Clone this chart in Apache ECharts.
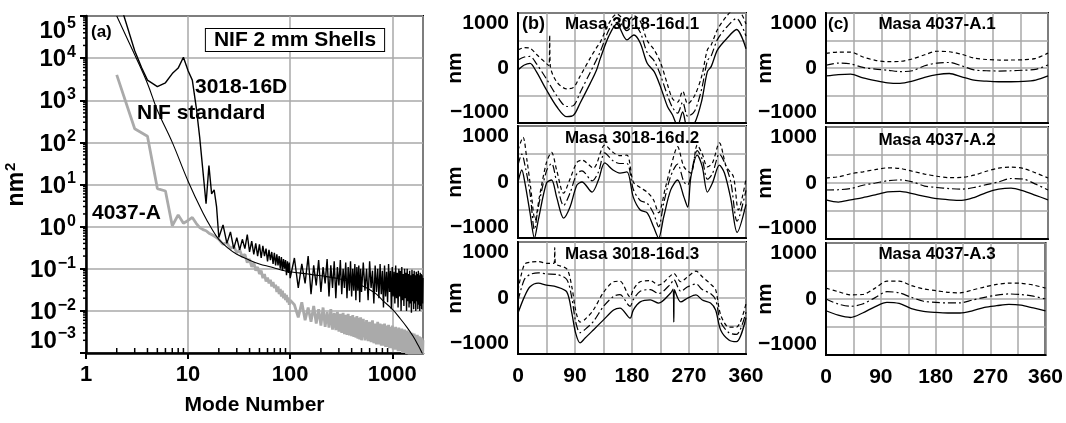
<!DOCTYPE html>
<html><head><meta charset="utf-8">
<script src="https://cdn.jsdelivr.net/npm/echarts@6/dist/echarts.min.js"></script>
<style>html,body{margin:0;padding:0;background:#fff}#c{width:1066px;height:423px}</style>
</head><body><div id="c"></div>
<script>
const FONT = '"Liberation Sans", Arial, Helvetica, sans-serif';

// ---------- Panel (a): power spectra ----------
const nifStandard = [[2,1e5],[3,1.2e4],[4,2500],[5,580],[7,100],[10,12],[14,2.1],[17,0.9],[20,0.5],[25,0.3],[30,0.22],[40,0.16],[50,0.13],[65,0.11],[80,0.095],[100,0.085],[150,0.075],[200,0.068],[300,0.058],[400,0.048],[500,0.04],[600,0.032],[700,0.025],[800,0.018],[1000,0.011],[1200,0.0065],[1400,0.004],[1600,0.0025],[1800,0.0015],[2000,0.0009]];

const s3018Low = [[2.3,1.2e5],[3,1.5e4],[3.5,6000],[4,3000],[5,2100],[6,2600],[7,4300],[8,5800],[9,10500],[10,5000],[11,3000],[12,700],[13,130],[14,20],[15,3.5],[16,28],[17,6],[18,7.5],[19,3]];
const s4037Low = [[2,4000],[3,210],[4,140],[5,8],[6,7],[7,1.05],[8,1.9],[9,1.2],[10,1.4],[11,1.65],[12,1.2],[13,0.95],[14,0.85],[15,0.8],[16,0.7],[17,0.65],[18,0.6],[19,0.55]];

// mode grids for the noisy parts (20..100 step 2, 110..500 step 10, 520..2000 step 20)
function range(a, b, s) { const r = []; for (let v = a; v <= b; v += s) r.push(v); return r; }
const modesA = range(20, 100, 2);
const modesB = range(110, 500, 10);
const modesC = range(520, 2000, 20);

const s3018A = [0.55,1.1,0.4,0.75,0.3,0.55,0.28,0.5,0.3,0.65,0.25,0.45,0.22,0.4,0.2,0.38,0.18,0.35,0.2,0.3,0.15,0.28,0.16,0.25,0.13,0.24,0.12,0.22,0.12,0.2,0.1,0.19,0.09,0.17,0.1,0.16,0.07,0.15,0.08,0.14,0.06];
const s3018B = [0.18,0.035,0.13,0.045,0.2,0.025,0.12,0.04,0.16,0.028,0.11,0.045,0.17,0.022,0.12,0.035,0.15,0.02,0.11,0.04,0.16,0.025,0.1,0.035,0.14,0.02,0.11,0.03,0.15,0.022,0.1,0.03,0.13,0.018,0.11,0.03,0.12,0.016,0.1,0.028];
const s3018C = [0.14,0.03,0.1,0.018,0.15,0.035,0.09,0.015,0.12,0.028,
  0.1,0.02,0.13,0.025,0.09,0.012,0.12,0.022,0.085,0.016,
  0.13,0.028,0.09,0.011,0.11,0.022,0.085,0.015,0.12,0.02,
  0.08,0.012,0.1,0.022,0.09,0.01,0.11,0.018,0.075,0.013,
  0.1,0.02,0.08,0.01,0.1,0.017,0.075,0.012,0.09,0.015,
  0.07,0.009,0.095,0.017,0.075,0.011,0.09,0.015,0.07,0.01,
  0.085,0.017,0.075,0.011,0.09,0.014,0.07,0.01,0.08,0.013,
  0.075,0.011,0.07,0.015,0.06];

const s4037A = [0.5,0.38,0.42,0.3,0.34,0.24,0.28,0.19,0.22,0.14,0.17,0.11,0.14,0.09,0.11,0.075,0.09,0.06,0.075,0.05,0.062,0.045,0.055,0.038,0.048,0.035,0.042,0.028,0.038,0.025,0.033,0.022,0.03,0.02,0.026,0.018,0.024,0.016,0.021,0.014,0.018];
const s4037B = [0.014,0.007,0.016,0.006,0.012,0.0055,0.013,0.005,0.011,0.0045,
  0.012,0.0042,0.0095,0.004,0.011,0.0036,0.009,0.0035,0.0095,0.0032,
  0.0085,0.003,0.009,0.0028,0.008,0.0027,0.0085,0.0026,0.0075,0.0025,
  0.008,0.0024,0.007,0.0023,0.0075,0.0022,0.0068,0.0021,0.007,0.002];
const s4037C = [0.0065,0.002,0.006,0.0019,0.0055,0.0018,0.006,0.0017,0.005,0.0016,
  0.0055,0.0016,0.005,0.0015,0.0048,0.0015,0.005,0.0014,0.0045,0.0014,
  0.0047,0.0013,0.0042,0.0013,0.0045,0.0012,0.004,0.0012,0.0042,0.0012,
  0.0038,0.0011,0.004,0.0011,0.0036,0.0011,0.0038,0.001,0.0034,0.001,
  0.0036,0.001,0.0032,0.00095,0.0034,0.00095,0.003,0.0009,0.0032,0.0009,
  0.0029,0.0009,0.003,0.00085,0.0028,0.00085,0.0029,0.0008,0.0027,0.0008,
  0.0026,0.0008,0.0027,0.00075,0.0025,0.00075,0.0025,0.0007,0.0024,0.0007,
  0.0023,0.0007,0.0022,0.0007,0.002];

function zip(ms, vs) { const r = []; for (let i = 0; i < Math.min(ms.length, vs.length); i++) r.push([ms[i], vs[i]]); return r; }
const data3018 = s3018Low.concat(zip(modesA, s3018A), zip(modesB, s3018B), zip(modesC, s3018C));
const data4037 = s4037Low.concat(zip(modesA, s4037A), zip(modesB, s4037B), zip(modesC, s4037C));

// ---------- Panel (b): Masa 3018-16d ----------
const b1Solid = [[0,-36],[10,55],[19,85],[29,-67],[45,-400],[61,-700],[77,-885],[88,-855],[98,-640],[114,-280],[124,-36],[130,175],[143,570],[156,800],[172,510],[183,600],[193,455],[204,85],[215,-67],[225,-340],[236,-700],[244,-855],[252,-1050],[260,-800],[268,-1100],[279,-1000],[290,-600],[299,-67],[305,25],[315,330],[330,540],[345,700],[360,350]];
const b1DashDot = [[0,145],[10,200],[19,210],[29,80],[45,-200],[61,-500],[77,-700],[88,-680],[98,-450],[114,-80],[124,150],[130,300],[143,680],[156,900],[172,680],[183,780],[193,650],[204,280],[215,130],[225,-130],[236,-500],[244,-720],[252,-820],[260,-620],[268,-880],[279,-780],[290,-380],[299,130],[305,220],[315,520],[330,750],[345,900],[360,580]];
const b1Dashed = [[0,330],[10,370],[19,360],[29,250],[45,80],[49,40],[50,600],[51,40],[61,-250],[77,-380],[88,-350],[98,-150],[114,180],[124,370],[130,470],[143,800],[156,980],[172,850],[183,950],[193,850],[204,500],[215,330],[225,100],[236,-300],[244,-560],[252,-620],[260,-420],[268,-650],[279,-500],[290,-150],[299,330],[305,420],[315,700],[330,950],[345,1100],[360,800]];

const b2Solid = [[0,0],[6,214],[11,-20],[19,-550],[26,-1000],[32,-680],[45,-18],[53,36],[61,-270],[72,-645],[82,-450],[93,-55],[101,0],[117,-180],[127,36],[137,340],[150,214],[161,160],[172,180],[182,-270],[193,-500],[204,-550],[214,-800],[222,-1000],[230,-625],[241,-145],[252,36],[262,-270],[268,-450],[273,90],[283,480],[291,270],[299,-180],[307,-18],[318,300],[326,160],[336,-300],[346,-900],[360,-400]];
const b2DashDot = [[0,300],[6,500],[11,300],[19,-200],[26,-850],[32,-450],[45,200],[53,330],[61,0],[72,-420],[82,-200],[93,150],[101,200],[117,20],[127,180],[137,520],[150,380],[161,330],[172,330],[182,-130],[193,-330],[204,-380],[214,-560],[222,-800],[230,-380],[241,100],[252,320],[262,0],[268,-50],[273,120],[283,560],[291,400],[299,50],[307,150],[318,500],[326,350],[336,0],[346,-700],[360,-150]];
const b2Dashed = [[0,570],[8,800],[14,400],[20,-100],[27,-680],[34,-250],[45,350],[53,530],[61,214],[72,-200],[82,50],[93,350],[101,390],[119,250],[137,660],[150,530],[161,470],[172,480],[182,0],[193,-100],[204,-180],[214,-320],[222,-550],[233,-90],[242,300],[252,630],[262,270],[273,160],[283,660],[291,500],[299,270],[307,340],[318,700],[329,270],[340,100],[348,-500],[360,50]];

const b3Solid = [[0,-270],[10,20],[19,200],[32,265],[45,230],[61,200],[77,110],[85,-270],[91,-625],[98,-800],[106,-715],[119,-570],[135,-390],[151,-215],[161,-180],[177,-360],[182,-215],[193,-70],[209,-35],[222,-90],[241,90],[245,160],[246,-430],[247,150],[257,-70],[268,0],[281,55],[291,-35],[304,-90],[312,-215],[320,-570],[333,-750],[345,-780],[360,-350]];
const b3DashDot = [[0,-50],[10,330],[19,420],[32,450],[45,430],[61,420],[77,330],[85,0],[91,-420],[98,-620],[106,-560],[119,-420],[135,-150],[151,30],[161,60],[177,-150],[182,-30],[193,120],[209,150],[222,80],[241,250],[246,330],[257,120],[268,200],[281,250],[291,150],[304,80],[312,-30],[320,-430],[333,-620],[345,-650],[360,-250]];
const b3Dashed = [[0,140],[10,600],[19,640],[32,650],[45,620],[57,620],[58,900],[59,620],[77,520],[85,200],[91,-215],[98,-430],[106,-380],[119,-215],[135,100],[151,290],[161,300],[177,20],[182,150],[193,290],[209,310],[222,230],[241,400],[246,440],[257,290],[268,380],[281,480],[291,380],[304,250],[312,150],[320,-300],[333,-520],[345,-520],[360,-100]];

// ---------- Panel (c): Masa 4037-A ----------
const cAngles = [0,20,40,60,80,100,120,140,160,180,200,220,240,260,280,300,320,340,360];
const c1Dashed = [265,290,290,200,140,115,120,165,240,305,295,250,180,155,145,145,150,175,270];
const c1DashDot = [50,90,75,10,-20,-40,-65,-50,40,90,100,40,-35,-50,-55,-50,-40,-25,55];
const c1Solid = [-145,-120,-110,-180,-230,-270,-280,-240,-170,-120,-100,-160,-220,-240,-250,-250,-245,-220,-145];
const c2Dashed = [90,110,165,200,240,270,260,210,160,120,95,100,140,210,265,285,260,180,90];
const c2DashDot = [-125,-120,-100,-40,0,40,55,20,-55,-80,-100,-110,-80,-30,20,80,70,-20,-125];
const c2Solid = [-300,-340,-300,-260,-210,-160,-150,-190,-240,-280,-300,-310,-260,-170,-110,-90,-140,-220,-300];
const c3Dashed = [195,130,75,80,190,320,320,240,180,150,120,110,160,215,260,285,280,250,195];
const c3DashDot = [0,-90,-130,-90,20,130,110,30,-40,-60,-70,-70,-20,30,70,90,80,50,0];
const c3Solid = [-210,-290,-330,-250,-140,-60,-80,-170,-220,-240,-250,-250,-210,-150,-120,-95,-110,-160,-210];

const rowTitles = ['Masa 3018-16d.1','Masa 3018-16d.2','Masa 3018-16d.3','Masa 4037-A.1','Masa 4037-A.2','Masa 4037-A.3'];
const angleTicks = [0, 90, 180, 270, 360];

// ---------- layout ----------
const gridBoxes = [
  {left:86, top:16, width:337, height:337},
  {left:518, top:13, width:228, height:110},
  {left:518, top:126, width:228, height:112},
  {left:518, top:242, width:228, height:112},
  {left:826, top:13, width:222, height:110},
  {left:826, top:127, width:222, height:112},
  {left:826, top:243, width:222, height:112}
];
const GRIDC = '#a9a9a9';
const bold = {fontFamily: FONT, fontWeight: 'bold', color: '#000'};

const tickRich = {
  b: Object.assign({fontSize: 24, verticalAlign: 'bottom'}, bold),
  s: Object.assign({fontSize: 16, verticalAlign: 'bottom', padding: [0,0,11,1]}, bold)
};
const nameRich = {
  b: Object.assign({fontSize: 23, verticalAlign: 'bottom'}, bold),
  s: Object.assign({fontSize: 15, verticalAlign: 'bottom', padding: [0,0,10,1]}, bold)
};

function pow10Label(v) {
  const lg = Math.log10(v); const e = Math.round(lg);
  if (Math.abs(lg - e) > 0.01) return '';
  return '{b|10}{s|' + (e < 0 ? '\u2212' + (-e) : '' + e) + '}';
}

const xAxes = [], yAxes = [];
xAxes.push({
  type:'log', logBase:10, min:1, max:2000, gridIndex:0,
  axisLine:{lineStyle:{color:'#000', width:2.5}},
  axisTick:{length:6, lineStyle:{color:'#000', width:2}},
  axisLabel:Object.assign({fontSize:22, margin:11, showMaxLabel:false,
    formatter: v => { const lg = Math.log10(v); return Math.abs(lg - Math.round(lg)) < 0.01 ? String(Math.round(v)) : ''; }}, bold),
  splitLine:{show:true, lineStyle:{color:GRIDC, width:1.5}},
  name:'Mode Number', nameLocation:'middle', nameGap:42, nameMoveOverlap:false,
  nameTextStyle:Object.assign({fontSize:21}, bold)
});
yAxes.push({
  type:'log', logBase:10, min:1e-3, max:1e5, gridIndex:0, splitNumber:8,
  axisLine:{lineStyle:{color:'#000', width:2.5}},
  axisTick:{length:6, lineStyle:{color:'#000', width:2}},
  axisLabel:Object.assign({fontSize:24, margin:10, formatter:pow10Label, rich:tickRich,
    verticalAlignMaxLabel:'top', verticalAlignMinLabel:'bottom'}, bold),
  splitLine:{show:true, lineStyle:{color:GRIDC, width:1.5}},
  name:'{b|nm}{s|2}', nameLocation:'middle', nameGap:58, nameRotate:90, nameMoveOverlap:false,
  nameTextStyle:Object.assign({fontSize:23, rich:nameRich}, bold)
});
for (let i = 1; i <= 6; i++) {
  const bottomRow = (i === 3 || i === 6);
  xAxes.push({
    type:'value', min:0, max:360, interval:45, gridIndex:i,
    axisLine:{onZero:false, lineStyle:{color:'#000', width:2}},
    axisTick:{show:false},
    axisLabel:Object.assign({show:bottomRow, fontSize:21, margin:12,
      formatter: v => angleTicks.indexOf(v) >= 0 ? String(v) : ''}, bold),
    splitLine:{show:true, lineStyle:{color:GRIDC, width:1.5}}
  });
  yAxes.push({
    type:'value', min:-1000, max:1000, interval:500, gridIndex:i,
    axisLine:{onZero:false, lineStyle:{color:'#000', width:2}},
    axisTick:{show:false},
    axisLabel:Object.assign({fontSize:21, margin:9,
      verticalAlignMaxLabel:'top', verticalAlignMinLabel:'bottom',
      formatter: v => v === 0 ? '0' : (v === 1000 ? '1000' : (v === -1000 ? '\u22121000' : ''))}, bold),
    splitLine:{show:true, lineStyle:{color:GRIDC, width:1.5}},
    name:'nm', nameLocation:'middle', nameGap:i <= 3 ? 52 : 50, nameRotate:90, nameMoveOverlap:false,
    nameTextStyle:Object.assign({fontSize:21}, bold)
  });
}

// minor ticks for panel (a) log axes
const minorX = [], minorY = [];
for (let d = 1; d <= 1000; d *= 10) for (let k = 2; k <= 9; k++) if (k * d < 2000) minorX.push(k * d);
for (let d = 1e-3; d < 1e5; d *= 10) for (let k = 2; k <= 9; k++) minorY.push(k * d);

const series = [];
series.push({type:'custom', xAxisIndex:0, yAxisIndex:0, silent:true, clip:false, z:5,
  data: minorX.map(v => [v]),
  renderItem: (params, api) => {
    const p = api.coord([api.value(0), 1e-3]);
    return {type:'line', shape:{x1:p[0], y1:p[1], x2:p[0], y2:p[1]-5}, style:{stroke:'#000', lineWidth:1.5}};
  }});
series.push({type:'custom', xAxisIndex:0, yAxisIndex:0, silent:true, clip:false, z:5,
  data: minorY.map(v => [v]),
  renderItem: (params, api) => {
    const p = api.coord([1, api.value(0)]);
    return {type:'line', shape:{x1:p[0], y1:p[1], x2:p[0]-3, y2:p[1]}, style:{stroke:'#000', lineWidth:1.5}};
  }});
series.push({type:'line', xAxisIndex:0, yAxisIndex:0, data:data4037, showSymbol:false,
  lineStyle:{color:'#aaaaaa', width:2.8}, z:2});
series.push({type:'line', xAxisIndex:0, yAxisIndex:0, data:data3018, showSymbol:false,
  lineStyle:{color:'#000', width:1.4}, z:3});
series.push({type:'line', xAxisIndex:0, yAxisIndex:0, data:nifStandard, showSymbol:false, smooth:0.4,
  lineStyle:{color:'#000', width:1.1}, z:4});

const DASH = [4,3], DASHDOT = [8,3,2,3];
function addRow(gi, solid, dashdot, dashed) {
  const common = {xAxisIndex:gi, yAxisIndex:gi, showSymbol:false, smooth:0.3, z:3};
  series.push(Object.assign({type:'line', data:dashed, lineStyle:{color:'#000', width:1.2, type:DASH}}, common));
  series.push(Object.assign({type:'line', data:dashdot, lineStyle:{color:'#000', width:1.2, type:DASHDOT}}, common));
  series.push(Object.assign({type:'line', data:solid, lineStyle:{color:'#000', width:1.3}}, common));
}
addRow(1, b1Solid, b1DashDot, b1Dashed);
addRow(2, b2Solid, b2DashDot, b2Dashed);
addRow(3, b3Solid, b3DashDot, b3Dashed);
addRow(4, zip(cAngles, c1Solid), zip(cAngles, c1DashDot), zip(cAngles, c1Dashed));
addRow(5, zip(cAngles, c2Solid), zip(cAngles, c2DashDot), zip(cAngles, c2Dashed));
addRow(6, zip(cAngles, c3Solid), zip(cAngles, c3DashDot), zip(cAngles, c3Dashed));

function txt(x, y, text, size, extra) {
  return {type:'text', x:x, y:y, z:20, silent:true,
    style:Object.assign({text:text, fontSize:size, fontWeight:'bold', fontFamily:FONT, fill:'#000',
      textVerticalAlign:'middle', verticalAlign:'middle'}, extra || {})};
}
const titleY = [24, 138, 254];
const graphics = [
  txt(91, 32, '(a)', 17),
  txt(295, 40, 'NIF 2 mm Shells', 21, {align:'center', textAlign:'center', backgroundColor:'#fff', borderColor:'#000', borderWidth:1, padding:[1,8,0,8]}),
  txt(195, 87, '3018-16D', 21),
  txt(137, 113, 'NIF standard', 21),
  txt(92, 213, '4037-A', 21),
  txt(522, 24, '(b)', 18),
  txt(828, 24, '(c)', 17)
];
for (let r = 0; r < 3; r++) {
  graphics.push(txt(632, titleY[r], rowTitles[r], 17, {align:'center', textAlign:'center'}));
  graphics.push(txt(937, titleY[r] + (r === 1 ? 2 : 0), rowTitles[r + 3], 17, {align:'center', textAlign:'center'}));
}

const chart = echarts.init(document.getElementById('c'), null, {renderer:'canvas'});
chart.setOption({
  animation:false,
  backgroundColor:'#fff',
  grid: gridBoxes.map(g => Object.assign({show:true, borderColor:'#000', borderWidth:2, containLabel:false}, g)),
  xAxis: xAxes,
  yAxis: yAxes,
  series: series,
  graphic: graphics
});
</script></body></html>
